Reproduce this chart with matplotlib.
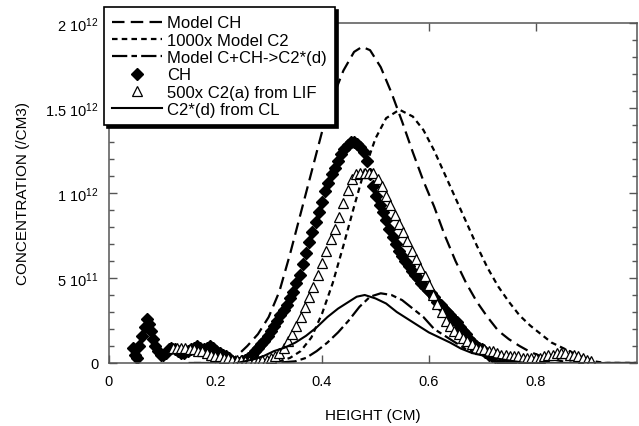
import matplotlib
matplotlib.use('Agg')
import matplotlib.pyplot as plt
import numpy as np
from matplotlib.ticker import MultipleLocator, FixedLocator

plt.rcParams.update({'font.family': ['Liberation Sans', 'DejaVu Sans']})
plt.rcParams.update({'mathtext.fontset': 'custom'})
plt.rcParams.update({'mathtext.rm': 'Liberation Sans'})
plt.rcParams.update({'mathtext.default': 'regular'})
plt.rcParams.update({'lines.scale_dashes': False})

# data, heights in cm, concentrations in 1e12 /cm3
model_ch_x = [0.15, 0.22, 0.24, 0.26, 0.28, 0.30, 0.32, 0.34, 0.36, 0.38, 0.40, 0.42, 0.44,
              0.46, 0.475, 0.49, 0.51, 0.53, 0.55, 0.57, 0.59, 0.61, 0.63, 0.65, 0.67,
              0.69, 0.71, 0.73, 0.75, 0.77, 0.79, 0.81, 0.83, 0.85, 0.87, 1.0]
model_ch_y = [0.0, 0.0, 0.04, 0.10, 0.17, 0.27, 0.42, 0.64, 0.88, 1.12, 1.36, 1.56, 1.72,
              1.83, 1.86, 1.84, 1.74, 1.59, 1.42, 1.24, 1.07, 0.92, 0.75, 0.60, 0.47,
              0.36, 0.27, 0.19, 0.14, 0.10, 0.065, 0.04, 0.025, 0.01, 0.0, 0.0]

model_c2_x = [0.30, 0.32, 0.34, 0.36, 0.38, 0.40, 0.42, 0.44, 0.46, 0.48, 0.50, 0.52, 0.545,
              0.57, 0.59, 0.61, 0.63, 0.65, 0.67, 0.69, 0.71, 0.73, 0.75, 0.77, 0.79,
              0.81, 0.83, 0.85, 0.87, 0.89, 0.91, 0.93, 1.0]
model_c2_y = [0.0, 0.01, 0.03, 0.07, 0.15, 0.29, 0.47, 0.69, 0.92, 1.14, 1.32, 1.44, 1.49,
              1.45, 1.37, 1.25, 1.11, 0.97, 0.83, 0.69, 0.56, 0.45, 0.36, 0.28, 0.22,
              0.17, 0.12, 0.09, 0.06, 0.03, 0.01, 0.0, 0.0]

model_d_x = [0.16, 0.26, 0.30, 0.33, 0.35, 0.37, 0.39, 0.41, 0.43, 0.45, 0.47, 0.49, 0.51,
             0.53, 0.55, 0.57, 0.59, 0.61, 0.63, 0.65, 0.67, 0.69, 0.71, 0.73, 0.76, 0.80, 1.0]
model_d_y = [0.0, 0.0, 0.0, 0.005, 0.01, 0.03, 0.07, 0.12, 0.18, 0.25, 0.33, 0.39, 0.41,
             0.40, 0.37, 0.32, 0.27, 0.20, 0.16, 0.12, 0.08, 0.06, 0.035, 0.02, 0.01, 0.0, 0.0]

cl_x = [0.24, 0.27, 0.29, 0.31, 0.33, 0.35, 0.37, 0.39, 0.41, 0.43, 0.45, 0.465, 0.48,
        0.50, 0.52, 0.54, 0.56, 0.58, 0.60, 0.62, 0.64, 0.66, 0.68, 0.70, 0.72, 0.74,
        0.76, 0.78, 1.0]
cl_y = [0.0, 0.02, 0.04, 0.07, 0.09, 0.12, 0.16, 0.21, 0.27, 0.32, 0.36, 0.39, 0.40,
        0.38, 0.35, 0.30, 0.26, 0.22, 0.18, 0.15, 0.12, 0.085, 0.06, 0.045, 0.03, 0.02,
        0.01, 0.0, 0.0]

ch_x = [0.045, 0.050, 0.054, 0.058, 0.063, 0.068, 0.072, 0.076, 0.080, 0.084, 0.088, 0.093,
        0.098, 0.103, 0.108, 0.113, 0.118, 0.124, 0.130, 0.136, 0.142, 0.148, 0.154, 0.160,
        0.166, 0.172, 0.178, 0.184, 0.190, 0.196, 0.202, 0.208, 0.214, 0.220, 0.226, 0.232,
        0.238, 0.244, 0.250, 0.256, 0.262, 0.268, 0.274, 0.280, 0.286, 0.292, 0.298, 0.304,
        0.310, 0.316, 0.322, 0.328, 0.334, 0.340, 0.346, 0.352, 0.358, 0.364, 0.370, 0.376,
        0.382, 0.388, 0.394, 0.400, 0.406, 0.412, 0.418, 0.424, 0.430, 0.436, 0.442, 0.448,
        0.454, 0.460, 0.466, 0.472, 0.478, 0.484, 0.490, 0.496, 0.502, 0.508, 0.514, 0.520,
        0.526, 0.532, 0.538, 0.544, 0.550, 0.556, 0.562, 0.568, 0.574, 0.580, 0.586, 0.592,
        0.598, 0.604, 0.610, 0.616, 0.622, 0.628, 0.634, 0.640, 0.646, 0.652, 0.658, 0.664,
        0.670, 0.676, 0.682, 0.688, 0.694, 0.700, 0.706, 0.712, 0.718, 0.724, 0.730, 0.736,
        0.742, 0.748, 0.754]
ch_y = [0.09, 0.05, 0.03, 0.10, 0.16, 0.21, 0.26, 0.23, 0.19, 0.14, 0.10, 0.07,
        0.05, 0.05, 0.06, 0.08, 0.09, 0.08, 0.07, 0.06, 0.06, 0.07, 0.08, 0.09,
        0.10, 0.09, 0.08, 0.09, 0.10, 0.09, 0.07, 0.06, 0.05, 0.04, 0.03, 0.01,
        0.00, 0.00, 0.01, 0.02, 0.03, 0.05, 0.07, 0.09, 0.11, 0.13, 0.16, 0.19,
        0.22, 0.25, 0.28, 0.31, 0.34, 0.38, 0.42, 0.47, 0.52, 0.58, 0.65, 0.71,
        0.77, 0.83, 0.89, 0.95, 1.01, 1.06, 1.11, 1.15, 1.19, 1.23, 1.26, 1.28,
        1.30, 1.30, 1.29, 1.27, 1.24, 1.19, 1.11, 1.04, 0.98, 0.93, 0.89, 0.84,
        0.79, 0.74, 0.70, 0.66, 0.63, 0.60, 0.57, 0.54, 0.52, 0.50, 0.47, 0.45,
        0.43, 0.41, 0.39, 0.36, 0.34, 0.32, 0.30, 0.28, 0.26, 0.24, 0.21, 0.19,
        0.17, 0.14, 0.12, 0.10, 0.09, 0.08, 0.065, 0.05, 0.04, 0.035, 0.03, 0.02,
        0.015, 0.01, 0.005]

c2_x = [0.120, 0.128, 0.136, 0.144, 0.152, 0.160, 0.168, 0.176, 0.184, 0.192, 0.200, 0.208,
        0.216, 0.224, 0.232, 0.240, 0.248, 0.256, 0.264, 0.272, 0.280, 0.288, 0.296, 0.304,
        0.312, 0.320, 0.328, 0.336, 0.344, 0.352, 0.360, 0.368, 0.376, 0.384, 0.392, 0.400,
        0.408, 0.416, 0.424, 0.432, 0.440, 0.448, 0.456, 0.464, 0.472, 0.480, 0.488, 0.496,
        0.504, 0.512, 0.520, 0.528, 0.536, 0.544, 0.552, 0.560, 0.568, 0.576, 0.584, 0.592,
        0.600, 0.608, 0.616, 0.624, 0.632, 0.640, 0.648, 0.656, 0.664, 0.672, 0.680, 0.688,
        0.696, 0.704, 0.712, 0.720, 0.728, 0.736, 0.744, 0.752, 0.760, 0.768, 0.776, 0.784,
        0.792, 0.800, 0.808, 0.816, 0.824, 0.832, 0.840, 0.848, 0.856, 0.864, 0.872, 0.880,
        0.888, 0.896, 0.904]
c2_y = [0.09, 0.09, 0.09, 0.09, 0.08, 0.08, 0.07, 0.07, 0.06, 0.05, 0.04, 0.04,
        0.03, 0.03, 0.02, 0.02, 0.02, 0.01, 0.01, 0.01, 0.01, 0.02, 0.02, 0.03,
        0.04, 0.06, 0.09, 0.13, 0.17, 0.22, 0.27, 0.33, 0.39, 0.45, 0.52, 0.59,
        0.66, 0.73, 0.79, 0.86, 0.94, 1.02, 1.08, 1.11, 1.12, 1.12, 1.12, 1.12,
        1.08, 1.04, 0.98, 0.93, 0.87, 0.82, 0.77, 0.72, 0.66, 0.61, 0.56, 0.51,
        0.46, 0.40, 0.35, 0.30, 0.25, 0.22, 0.19, 0.17, 0.15, 0.13, 0.11, 0.09,
        0.08, 0.08, 0.07, 0.07, 0.06, 0.05, 0.05, 0.04, 0.04, 0.04, 0.03, 0.03,
        0.03, 0.03, 0.03, 0.04, 0.05, 0.05, 0.06, 0.06, 0.06, 0.05, 0.05, 0.04,
        0.03, 0.02, 0.01]

scale = 1e12
yticks = [0, 0.5e12, 1e12, 1.5e12, 2e12]
ytick_labels = ['0', '5 10$^{11}$', '1 10$^{12}$', '1.5 10$^{12}$', '2 10$^{12}$']
xticks = [0, 0.2, 0.4, 0.6, 0.8]
xtick_labels = ['0', '0.2', '0.4', '0.6', '0.8']

fig = plt.figure(figsize=(6.39, 4.27), dpi=100)
ax = fig.add_axes([108.5 / 639, 1 - 364 / 427, (637 - 108.5) / 639, 340 / 427])

ax.plot(model_ch_x, np.array(model_ch_y) * scale, color='k', lw=1.6,
        dashes=(9, 4.5), label='Model CH')
ax.plot(model_c2_x, np.array(model_c2_y) * scale, color='k', lw=1.6,
        dashes=(4, 3), label='1000x Model C2')
ax.plot(model_d_x, np.array(model_d_y) * scale, color='k', lw=1.6,
        dashes=(11, 3, 4, 3), label='Model C+CH->C2*(d)')
ax.plot(ch_x, np.array(ch_y) * scale, 'D', color='k', ms=6, mec='k', label='CH')
ax.plot(c2_x, np.array(c2_y) * scale, '^', mfc='white', mec='k', ms=7, mew=0.9,
        label='500x C2(a) from LIF')
ax.plot(cl_x, np.array(cl_y) * scale, '-', color='k', lw=1.5, label='C2*(d) from CL')

ax.set_xlim(0, 0.99)
ax.set_ylim(0, 2e12)
ax.xaxis.set_major_locator(FixedLocator(xticks))
ax.set_xticklabels(xtick_labels)
ax.yaxis.set_major_locator(FixedLocator(yticks))
ax.set_yticklabels(ytick_labels)
ax.yaxis.set_minor_locator(MultipleLocator(1e11))

spine_col = '#555555'
for sp in ax.spines.values():
    sp.set_color(spine_col)
    sp.set_linewidth(1.1)
ax.tick_params(axis='both', which='both', direction='in', color=spine_col,
               top=True, right=True, labelsize=10.5, width=1.0)
ax.tick_params(axis='both', which='major', length=6)
ax.tick_params(axis='both', which='minor', length=3.5)
ax.tick_params(axis='x', pad=8)
ax.tick_params(axis='y', pad=7)

ax.set_xlabel('HEIGHT (CM)', fontsize=11, labelpad=14)
ax.set_ylabel('CONCENTRATION (/CM3)', fontsize=11, labelpad=11)

handles, labels = ax.get_legend_handles_labels()
leg = fig.legend(handles, labels, loc='upper left',
                 bbox_to_anchor=(104 / 639, 1 - 8 / 427), borderaxespad=0,
                 fontsize=12, labelspacing=0.14, handlelength=3.0, handletextpad=0.3,
                 borderpad=0.5, numpoints=1, fancybox=False, framealpha=1,
                 edgecolor='k', shadow={'color': 'k', 'alpha': 1})
leg.get_frame().set_linewidth(1.2)

plt.savefig('out.png', dpi=100)
